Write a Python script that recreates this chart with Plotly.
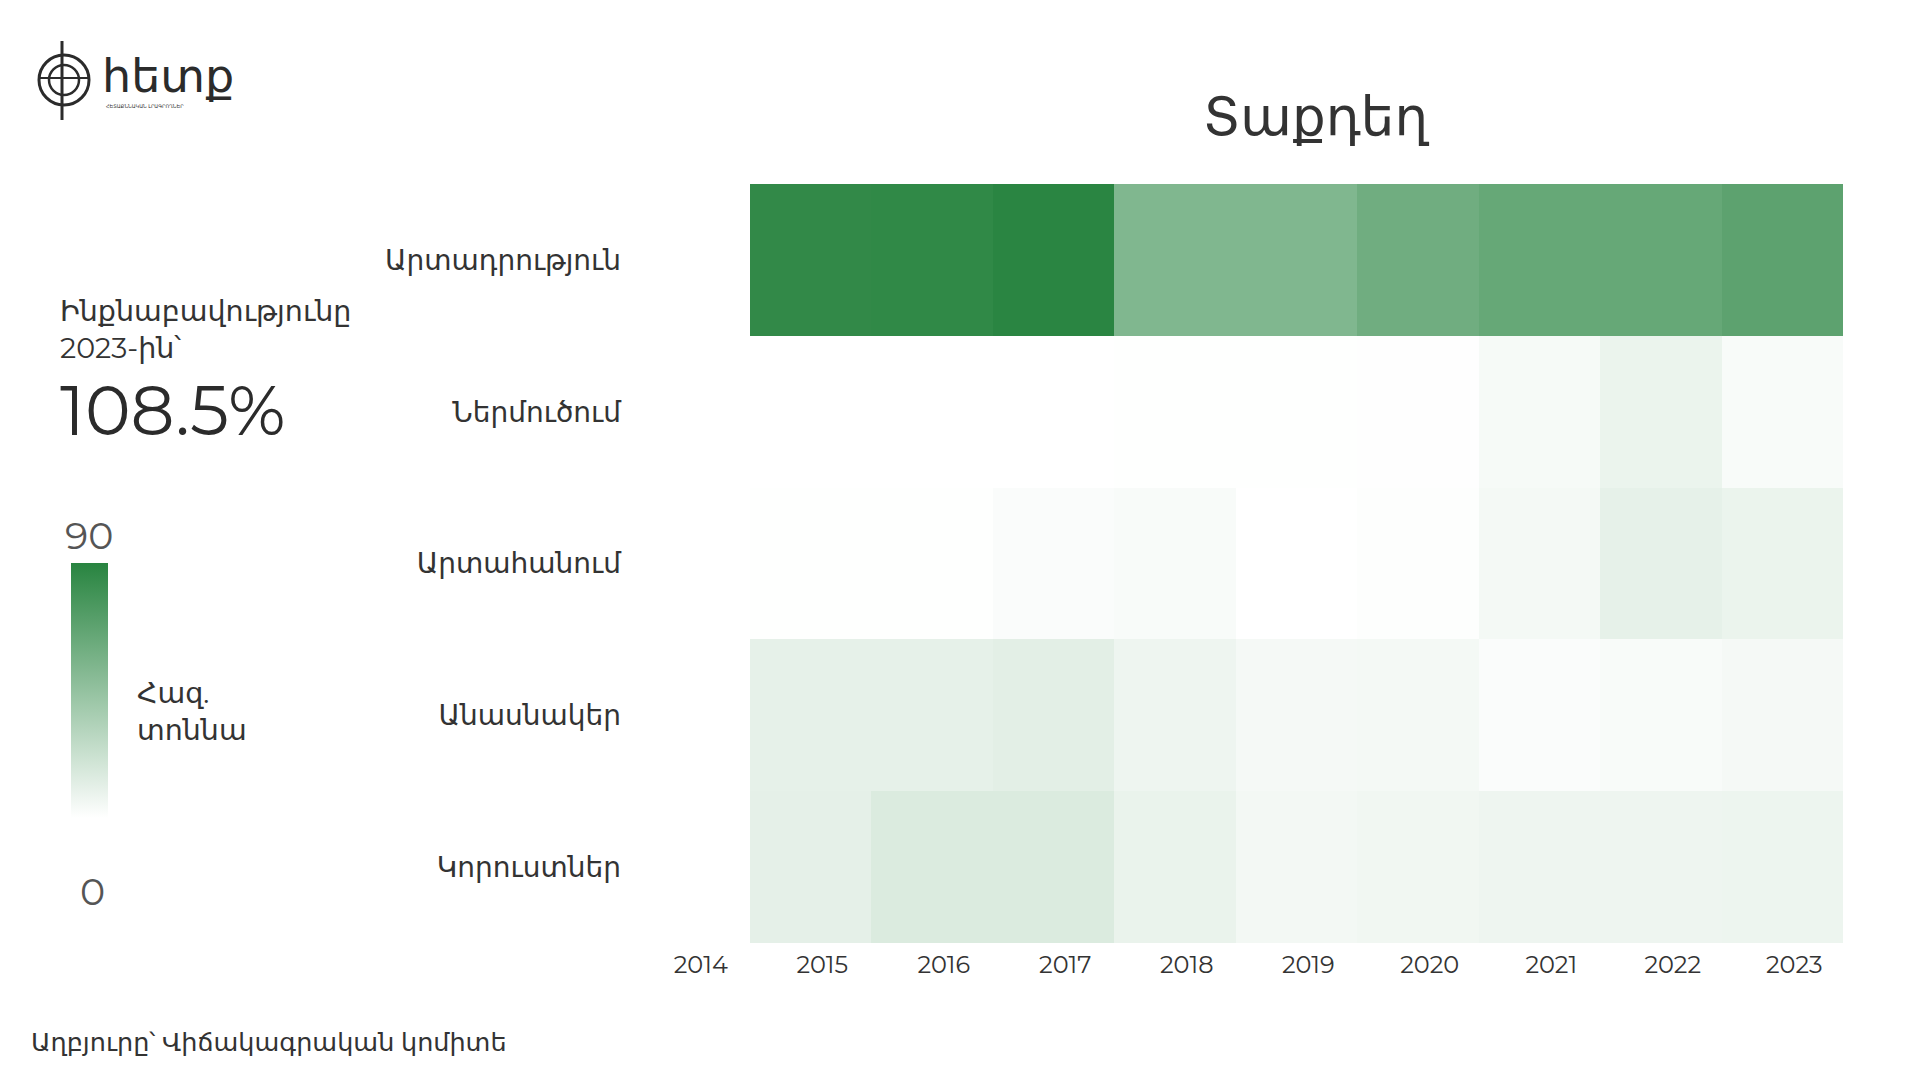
import plotly.graph_objects as go

# ---- data ----
years = ["2014", "2015", "2016", "2017", "2018", "2019", "2020", "2021", "2022", "2023"]
categories = ["Արտադրություն", "Ներմուծում", "Արտահանում", "Անասնակեր", "Կորուստներ"]
production = [None, 86, 86.5, 89, 53, 53, 60, 64, 64, 68]
imports = [None, 0.2, 0.2, 0.2, 0.3, 0.3, 0.6, 3.8, 8.4, 2.9]
exports = [None, 0.3, 0.3, 2.0, 2.9, 0.2, 0.8, 4.6, 10.5, 8.4]
feed = [None, 10.5, 10.5, 11.7, 7.1, 4.2, 4.6, 2.0, 2.9, 4.2]
losses = [None, 10.9, 15.0, 15.0, 8.8, 5.0, 5.9, 7.1, 7.1, 7.5]
z_max = 90
z_min = 0

title_text = "Տաքդեղ"
self_suff_label = "Ինքնաբավությունը<br>2023-ին՝"
self_suff_value = "108.5%"
unit_label = "Հազ.<br>տոննա"
source_text = "Աղբյուրը՝ Վիճակագրական կոմիտե"

W, H = 1920, 1080
FONT = "Montserrat, Inter, DejaVu Sans, sans-serif"
TXT = "#333333"


def px(x):
    return x / W


def py(y):
    return 1 - y / H


z = [production, imports, exports, feed, losses]

fig = go.Figure()
fig.add_trace(go.Heatmap(
    x=years, y=categories, z=z,
    zmin=z_min, zmax=z_max,
    colorscale=[[0, "#ffffff"], [1, "#288440"]],
    hoverongaps=False,
    colorbar=dict(
        x=px(71), xanchor="left", xref="paper", xpad=0,
        y=py(563), yanchor="top", yref="paper", ypad=0,
        len=(818 - 563) / H, lenmode="fraction",
        thickness=37, thicknessmode="pixels",
        outlinewidth=0, showticklabels=False, ticks="",
    ),
))


def ann(text, x, y, size, xanchor="left", color=TXT, family=FONT, align="left"):
    return dict(text=text, x=px(x), y=py(y), xref="paper", yref="paper",
                xanchor=xanchor, yanchor="middle", align=align,
                font=dict(size=size, color=color, family=family), showarrow=False)


annotations = [
    ann(title_text, 1316, 116, 53, xanchor="center"),
    ann(self_suff_label, 58, 329, 28.5),
    ann(self_suff_value, 58, 410, 69, color="#2b2b2b"),
    ann(str(z_max), 89, 535, 38, xanchor="center", color="#555555"),
    ann(str(z_min), 92, 891, 38, xanchor="center", color="#555555"),
    ann(unit_label, 135, 711, 28.5),
    ann(source_text, 29, 1041, 25.5),
    # logo text
    ann("հետք", 100, 76, 46, color="#2b2b2b", family="DejaVu Sans"),
    ann("ՀԵՏԱՔՆՆԱԿԱՆ ԼՐԱԳՐՈՂՆԵՐ", 104, 106, 5, color="#2b2b2b", family="DejaVu Sans"),
]

# simple logo emblem
cx, cy = 64, 80
shapes = [
    dict(type="circle", xref="paper", yref="paper",
         x0=px(cx - 25), x1=px(cx + 25), y0=py(cy + 25), y1=py(cy - 25),
         line=dict(color="#2b2b2b", width=3)),
    dict(type="circle", xref="paper", yref="paper",
         x0=px(cx - 15), x1=px(cx + 15), y0=py(cy + 15), y1=py(cy - 15),
         line=dict(color="#2b2b2b", width=2.5)),
    dict(type="line", xref="paper", yref="paper",
         x0=px(cx - 2), x1=px(cx - 2), y0=py(41), y1=py(120),
         line=dict(color="#2b2b2b", width=3)),
    dict(type="line", xref="paper", yref="paper",
         x0=px(cx - 25), x1=px(cx + 25), y0=py(cy - 2), y1=py(cy - 2),
         line=dict(color="#2b2b2b", width=2)),
]

fig.update_layout(
    width=W, height=H,
    margin=dict(l=0, r=0, t=0, b=0),
    paper_bgcolor="white", plot_bgcolor="white",
    font=dict(family=FONT, color=TXT),
    annotations=annotations,
    shapes=shapes,
    xaxis=dict(
        domain=[px(628), px(1843)], type="category",
        showgrid=False, zeroline=False, showline=False, ticks="",
        tickfont=dict(size=24, color=TXT, family=FONT),
        ticklabelshift=12, ticklabelstandoff=5, automargin=False,
    ),
    yaxis=dict(
        domain=[py(943), py(184)], type="category", autorange="reversed",
        showgrid=False, zeroline=False, showline=False, ticks="",
        tickfont=dict(size=28, color=TXT, family=FONT),
        ticklabelstandoff=6, automargin=False,
    ),
)

fig.write_html("out.html", config={"displayModeBar": False},
               post_script="document.body.style.margin='0';document.body.style.overflow='hidden';")
